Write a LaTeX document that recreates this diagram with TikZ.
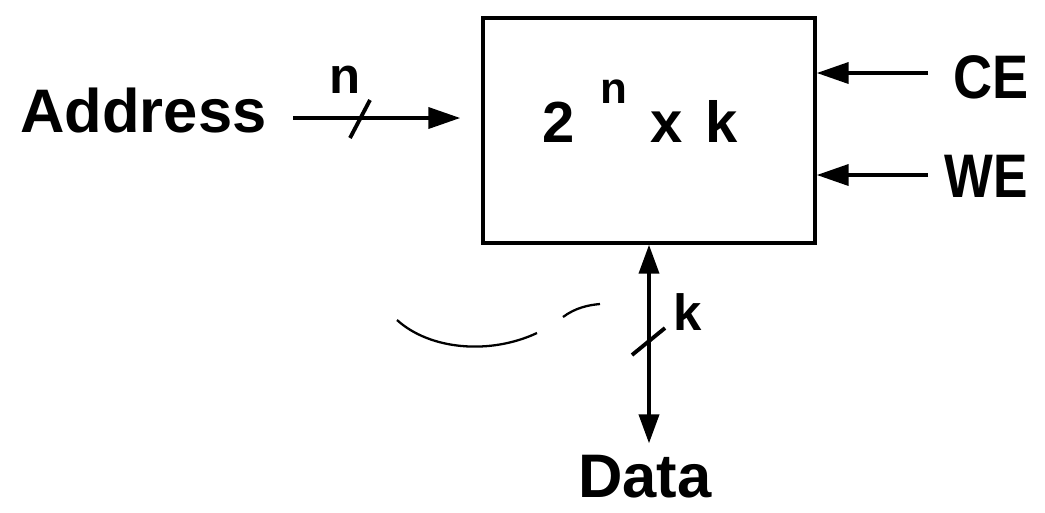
\documentclass[tikz,border=0pt]{standalone}
\usepackage{fontspec}
\setmainfont{Liberation Sans}
\usetikzlibrary{arrows.meta,positioning,calc}

\begin{document}
\begin{tikzpicture}[
  x=0.02cm,y=-0.02cm,
  every node/.style={inner sep=0pt},
  sig/.style={font=\fontsize{35}{40}\selectfont\bfseries},
  sizetxt/.style={font=\fontsize{33}{38}\selectfont\bfseries},
  buslbl/.style={font=\fontsize{29}{34}\selectfont\bfseries},
  memblock/.style={draw,line width=2pt,minimum width=6.64cm,minimum height=4.5cm},
  arr/.style={-{Triangle[length=0.64cm,width=0.42cm]},line width=2.2pt},
  biarr/.style={{Triangle[length=0.58cm,width=0.4cm]}-{Triangle[length=0.58cm,width=0.4cm]},line width=2.2pt},
  slash/.style={line width=2.2pt},
  stray/.style={line width=1.3pt}
]
\useasboundingbox (0,0) rectangle (1045,512);

\node[memblock] (mem) at (649,130.5) {};
\node[sizetxt,anchor=base] (size) at (640,142) {2\hspace{0.45em}\raisebox{0.67em}{\fontsize{25}{30}\selectfont n}\hspace{0.4em}x\hspace{0.1em} k};

\node[sig,anchor=base west] (addr) at (20,132) {Address};
\node[sig,anchor=base west] (ce) at (953,98) {\scalebox{0.88}[1]{CE}};
\node[sig,anchor=base west] (we) at (944,197) {\scalebox{0.84}[1]{WE}};
\node[sig,anchor=base] (data) at (645,497) {Data};

\coordinate (addrin) at (293,118);
\coordinate (cein) at (928,73);
\coordinate (wein) at (928,175);

\draw[arr,shorten >=0.42cm] (addrin) -- (mem.west |- addrin);
\draw[arr] (cein) -- (mem.east |- cein);
\draw[arr] (wein) -- (mem.east |- wein);
\draw[biarr,shorten >=0.22cm] (mem.south) -- (mem.south |- data.north);

% bus widths
\draw[slash] (360,119) +(-10,19) -- +(10,-19);
\node[buslbl,anchor=base] (nlbl) at (345,93) {n};
\draw[slash] (649,341) +(-17,14) -- +(16,-13);
\node[buslbl,anchor=base west] (klbl) at (673,330) {k};

% pen marks
\draw[stray] (397,320) .. controls (430,350) and (490,355) .. (537,333);
\draw[stray] (563,317) .. controls (575,308) and (588,305) .. (600,304);
\end{tikzpicture}
\end{document}
